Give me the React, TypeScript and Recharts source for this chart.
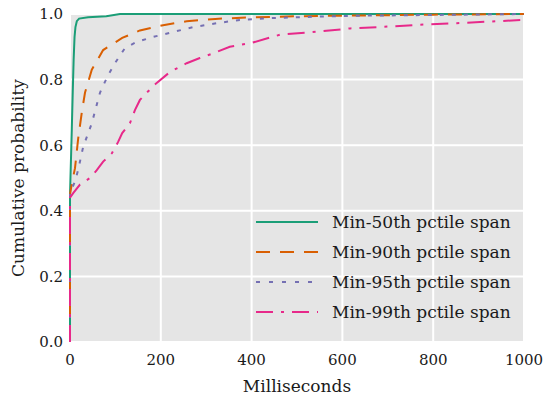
import { LineChart, Line, XAxis, YAxis, CartesianGrid } from "recharts";

// ── Theme ─────────────────────────────────────────────────────────────────────
const FONT = "'DejaVu Serif', serif";
const INK = "#1a1a1a";
const PANEL = "#e5e5e5";
const GREEN = "#1b9e77";
const ORANGE = "#d95f02";
const PURPLE = "#7570b3";
const PINK = "#e7298a";

// ── Data ──────────────────────────────────────────────────────────────────────
const p50Ms = [0, 0, 2, 4, 6, 8, 10, 12, 15, 20, 40, 80, 110, 1000];
const p50Prob = [0, 0.45, 0.55, 0.65, 0.76, 0.86, 0.93, 0.96, 0.978, 0.986, 0.99, 0.993, 1.0, 1.0];

const p90Ms = [0, 0, 5, 11, 18, 26, 33, 48, 73, 115, 154, 205, 257, 320, 400, 500, 600, 800, 1000];
const p90Prob = [0, 0.45, 0.49, 0.53, 0.62, 0.7, 0.76, 0.83, 0.89, 0.927, 0.95, 0.966, 0.978, 0.985, 0.99, 0.993, 0.995, 0.998, 1.0];

const p95Ms = [0, 0, 5, 11, 18, 29, 48, 66, 84, 99, 121, 147, 183, 227, 271, 324, 374, 450, 550, 650, 800, 1000];
const p95Prob = [0, 0.45, 0.47, 0.49, 0.525, 0.595, 0.667, 0.76, 0.814, 0.85, 0.896, 0.915, 0.93, 0.945, 0.96, 0.972, 0.982, 0.988, 0.992, 0.995, 0.997, 1.0];

const p99Ms = [0, 0, 7, 22, 44, 59, 73, 92, 106, 115, 132, 143, 154, 169, 191, 220, 257, 286, 315, 352, 400, 463, 544, 617, 705, 778, 852, 940, 1000];
const p99Prob = [0, 0.44, 0.454, 0.48, 0.5, 0.524, 0.55, 0.575, 0.61, 0.637, 0.667, 0.707, 0.738, 0.76, 0.79, 0.823, 0.85, 0.866, 0.88, 0.9, 0.912, 0.937, 0.946, 0.956, 0.962, 0.968, 0.972, 0.978, 0.982];

const xTicks = [0, 200, 400, 600, 800, 1000];
const yTicks = [0, 0.2, 0.4, 0.6, 0.8, 1.0];

const toPoints = (ms: number[], prob: number[]) => ms.map((m, i) => ({ ms: m, p: prob[i] }));

const SERIES = [
  { name: "Min-50th pctile span", color: GREEN, dash: undefined, legendDash: undefined, data: toPoints(p50Ms, p50Prob) },
  { name: "Min-90th pctile span", color: ORANGE, dash: "14 10", legendDash: "14 10", data: toPoints(p90Ms, p90Prob) },
  { name: "Min-95th pctile span", color: PURPLE, dash: "4 8", legendDash: "4 9", data: toPoints(p95Ms, p95Prob) },
  { name: "Min-99th pctile span", color: PINK, dash: "17 8 3 8", legendDash: "17 8 3 8", data: toPoints(p99Ms, p99Prob) },
];

// ── Legend (overlaid, so it does not steal plot space) ────────────────────────
function SpanLegend() {
  return (
    <div style={{ position: "absolute", left: 255, top: 207, fontFamily: FONT, fontSize: 17, color: INK, lineHeight: "30px" }}>
      {SERIES.map((s) => (
        <div key={s.name} style={{ display: "flex", alignItems: "center", height: 30 }}>
          <svg width={64} height={10} style={{ marginRight: 13 }}>
            <line x1={1} y1={5} x2={63} y2={5} stroke={s.color} strokeWidth={2} strokeDasharray={s.legendDash} />
          </svg>
          <span>{s.name}</span>
        </div>
      ))}
    </div>
  );
}

export default function App() {
  return (
    <div style={{ position: "absolute", left: 0, top: 0, width: 545, height: 397, background: "#fff" }}>
      <LineChart width={545} height={397} margin={{ top: 14, right: 21, bottom: 0, left: 0 }}>
        <CartesianGrid fill={PANEL} stroke="#ffffff" strokeWidth={2} />
        <XAxis
          type="number"
          dataKey="ms"
          domain={[0, 1000]}
          ticks={xTicks}
          allowDuplicatedCategory={false}
          height={55}
          axisLine={false}
          tickLine={false}
          tickSize={0}
          tickMargin={12}
          tick={{ fill: INK, fontSize: 15, fontFamily: FONT }}
          label={({ viewBox }: any) => (
            <text
              x={viewBox.x + viewBox.width / 2}
              y={viewBox.y + 50}
              textAnchor="middle"
              fill={INK}
              fontSize={17}
              fontFamily={FONT}
            >
              Milliseconds
            </text>
          )}
        />
        <YAxis
          type="number"
          dataKey="p"
          domain={[0, 1]}
          ticks={yTicks}
          width={70}
          axisLine={false}
          tickLine={false}
          tickSize={0}
          tickMargin={7}
          tickFormatter={(v: number) => v.toFixed(1)}
          tick={{ fill: INK, fontSize: 15, fontFamily: FONT }}
          label={({ viewBox }: any) => {
            const cx = viewBox.x + 18;
            const cy = viewBox.y + viewBox.height / 2;
            return (
              <text
                x={cx}
                y={cy}
                transform={`rotate(-90 ${cx} ${cy})`}
                textAnchor="middle"
                dominantBaseline="central"
                fill={INK}
                fontSize={17}
                fontFamily={FONT}
              >
                Cumulative probability
              </text>
            );
          }}
        />
        {SERIES.map((s) => (
          <Line
            key={s.name}
            data={s.data}
            dataKey="p"
            name={s.name}
            type="linear"
            stroke={s.color}
            strokeWidth={2}
            strokeDasharray={s.dash}
            dot={false}
            activeDot={false}
            isAnimationActive={false}
          />
        ))}
      </LineChart>
      <SpanLegend />
    </div>
  );
}
